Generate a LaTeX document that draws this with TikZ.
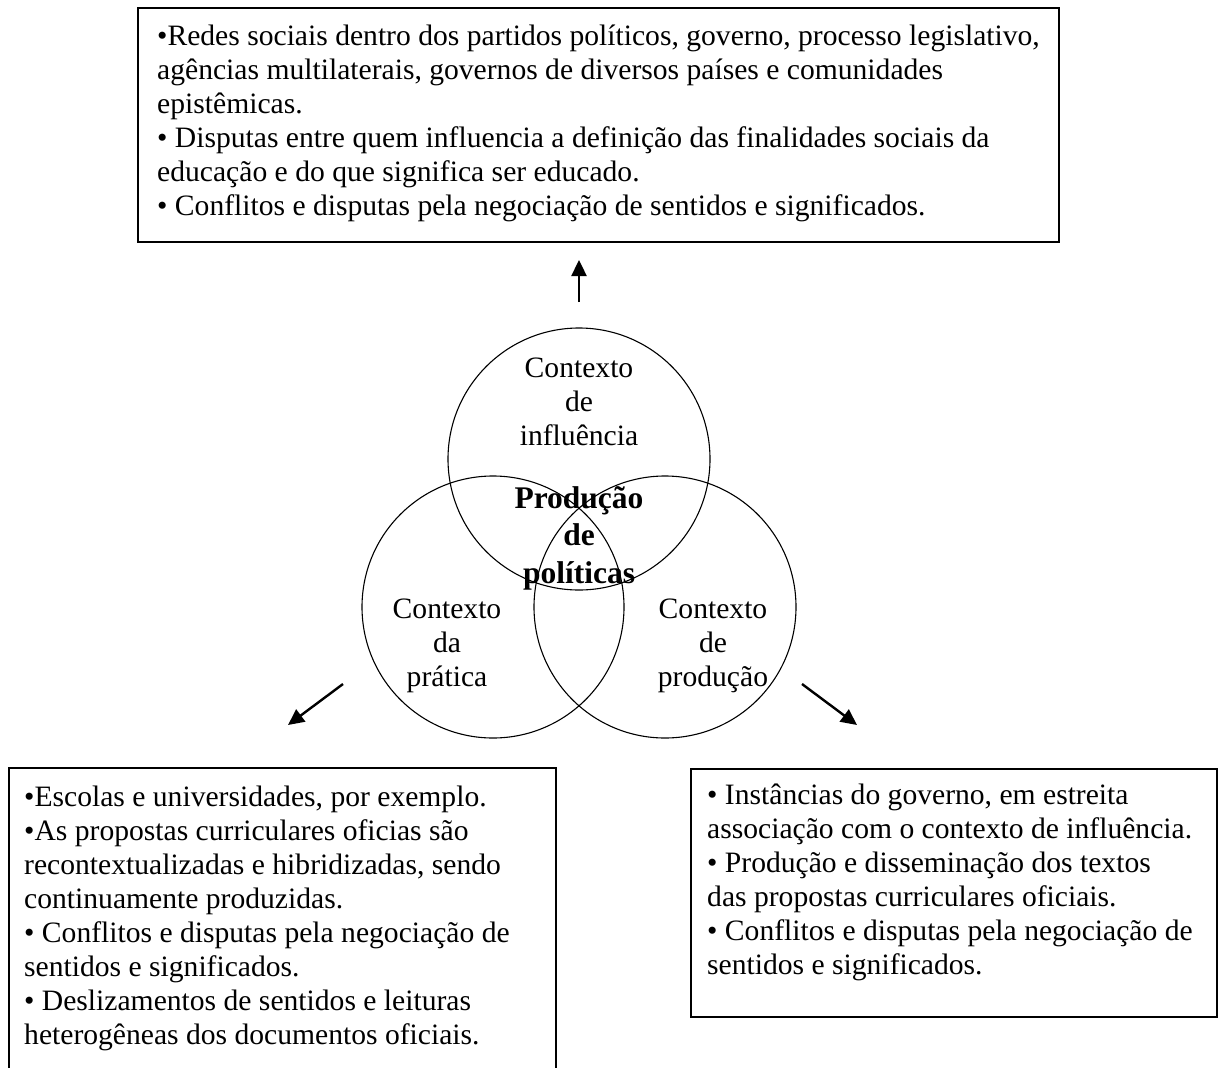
\documentclass[tikz,border=0pt]{standalone}
\usepackage{fontspec}
\setmainfont{Liberation Serif}
\usetikzlibrary{arrows.meta}
\begin{document}
\begin{tikzpicture}[x=1pt,y=-1pt,
  boxline/.style={line width=1.8pt},
  bodytext/.style={anchor=north west, inner sep=0pt, align=left, font=\fontsize{29.6}{34}\selectfont},
  circ/.style={draw, circle, line width=1.1pt, minimum size=262pt, inner sep=0pt},
  lbl/.style={align=center, inner sep=0pt, anchor=north, font=\fontsize{29.6}{34}\selectfont},
  boldlbl/.style={align=center, inner sep=0pt, anchor=north, font=\fontsize{31.5}{37.5}\selectfont\bfseries},
  arr/.style={line width=2.4pt, -{Triangle[length=16pt,width=15pt]}}]
\useasboundingbox (0,0) rectangle (1218,1068);

% boxes
\node[draw, boxline, minimum width=921pt, minimum height=234pt, inner sep=0pt, anchor=north west] (topbox) at (137,7) {};
\coordinate (lbBL) at (9,1068);
\coordinate (lbTR) at (556,768);
\coordinate (lbBR) at (556,1068);
\draw[boxline] (lbBL) |- (lbTR) -- (lbBR);
\node[draw, boxline, minimum width=526pt, minimum height=248pt, inner sep=0pt, anchor=north west] (rightbox) at (690,768) {};

% texts
\node[bodytext] (toptext) at (157,19) {\rule{0pt}{26pt}•Redes sociais dentro dos partidos políticos, governo, processo legislativo,\\
agências multilaterais, governos de diversos países e comunidades\\
epistêmicas.\\
• Disputas entre quem influencia a definição das finalidades sociais da\\
educação e do que significa ser educado.\\
• Conflitos e disputas pela negociação de sentidos e significados.};

\node[bodytext] (lefttext) at (24,780) {\rule{0pt}{26pt}•Escolas e universidades, por exemplo.\\
•As propostas curriculares oficias são\\
recontextualizadas e hibridizadas, sendo\\
continuamente produzidas.\\
• Conflitos e disputas pela negociação de\\
sentidos e significados.\\
• Deslizamentos de sentidos e leituras\\
heterogêneas dos documentos oficiais.};

\node[bodytext] (righttext) at (707,778) {\rule{0pt}{26pt}• Instâncias do governo, em estreita\\
associação com o contexto de influência.\\
• Produção e disseminação dos textos\\
das propostas curriculares oficiais.\\
• Conflitos e disputas pela negociação de\\
sentidos e significados.};

% circles
\node[circ] (cinf) at (579,459) {};
\node[circ] (cpra) at (493,607) {};
\node[circ] (cpro) at (665,607) {};

\node[lbl] (linf) at (579,351) {\rule{0pt}{26pt}Contexto\\de\\influência};
\node[lbl] (lpra) at (447,592) {\rule{0pt}{26pt}Contexto\\da\\prática};
\node[lbl] (lpro) at (713,592) {\rule{0pt}{26pt}Contexto\\de\\produção};
\node[boldlbl] (lcen) at (579,480) {\rule{0pt}{28pt}Produção\\de\\políticas};

% arrows
\coordinate (upT) at (579,302);
\coordinate (upH) at (579,260);
\coordinate (lT) at (343,684);
\coordinate (lH) at (288,725);
\coordinate (rT) at (802,684);
\coordinate (rH) at (857,725);
\draw[arr] (upT) -- (upH);
\draw[arr] (lT) -- (lH);
\draw[arr] (rT) -- (rH);
\end{tikzpicture}
\end{document}
